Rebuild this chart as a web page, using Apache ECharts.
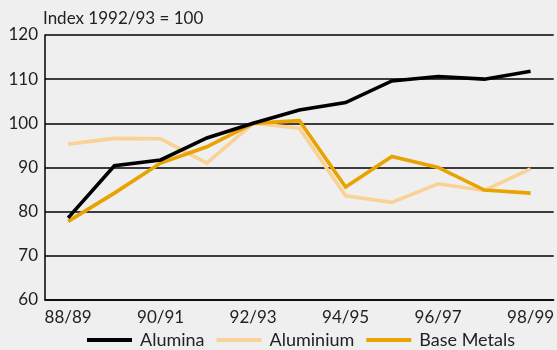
<!DOCTYPE html>
<html>
<head>
<meta charset="utf-8">
<script src="https://cdn.jsdelivr.net/npm/echarts@6/dist/echarts.min.js"></script>
<style>
  html, body { margin: 0; padding: 0; background: #efefef; }
  #chart { width: 557px; height: 350px; }
</style>
</head>
<body>
<div id="chart"></div>
<script>
// Financial years on the category axis
const years = ['88/89', '89/90', '90/91', '91/92', '92/93', '93/94', '94/95', '95/96', '96/97', '97/98', '98/99'];

// Price indices, 1992/93 = 100
const alumina    = [78.6, 90.4, 91.7, 96.7, 100, 103.0, 104.7, 109.6, 110.6, 110.0, 111.8];
const aluminium  = [95.3, 96.6, 96.5, 91.0, 100, 98.9, 83.6, 82.1, 86.3, 84.8, 89.7];
const baseMetals = [77.8, 84.2, 91.0, 94.7, 100, 100.6, 85.6, 92.5, 90.0, 84.9, 84.2];

const yTicks = { min: 60, max: 120, interval: 10 };

const font = 'Lato, "Open Sans", sans-serif';
const textColor = '#222';

const chart = echarts.init(document.getElementById('chart'), null, { renderer: 'canvas' });

function line(name, data, color) {
  return {
    name: name,
    type: 'line',
    data: data,
    symbol: 'none',
    lineStyle: { color: color, width: 3.6, join: 'miter' },
    itemStyle: { color: color },
    z: name === 'Alumina' ? 5 : (name === 'Base Metals' ? 4 : 3)
  };
}

chart.setOption({
  backgroundColor: '#efefef',
  animation: false,
  title: {
    text: 'Index 1992/93 = 100',
    left: 43,
    top: 10,
    padding: 0,
    textStyle: { fontFamily: font, fontSize: 17, fontWeight: 'normal', color: textColor }
  },
  legend: {
    top: 331,
    left: 87,
    padding: 0,
    itemWidth: 45,
    itemHeight: 4,
    itemGap: 12,
    icon: 'rect',
    textStyle: { fontFamily: font, fontSize: 18, color: textColor, padding: [0, 0, 0, 3] },
    data: ['Alumina', 'Aluminium', 'Base Metals']
  },
  grid: { left: 45, right: 0, top: 35, bottom: 50, containLabel: false },
  xAxis: {
    type: 'category',
    data: years,
    boundaryGap: true,
    axisLine: { lineStyle: { color: '#000', width: 1.5 } },
    axisTick: { alignWithLabel: true, interval: 1, length: 6, lineStyle: { color: '#555', width: 1.5 } },
    axisLabel: { interval: 1, fontFamily: font, fontSize: 17, color: textColor, margin: 9 },
    splitLine: { show: false }
  },
  yAxis: {
    type: 'value',
    min: yTicks.min,
    max: yTicks.max,
    interval: yTicks.interval,
    axisLine: { show: true, lineStyle: { color: '#000', width: 1.5 } },
    axisTick: { show: false },
    axisLabel: { fontFamily: font, fontSize: 17, color: textColor, margin: 7 },
    splitLine: { lineStyle: { color: '#000', width: 1.5 } }
  },
  series: [
    line('Alumina', alumina, '#000000'),
    line('Aluminium', aluminium, '#f8d296'),
    line('Base Metals', baseMetals, '#e9a300')
  ]
});
</script>
</body>
</html>
